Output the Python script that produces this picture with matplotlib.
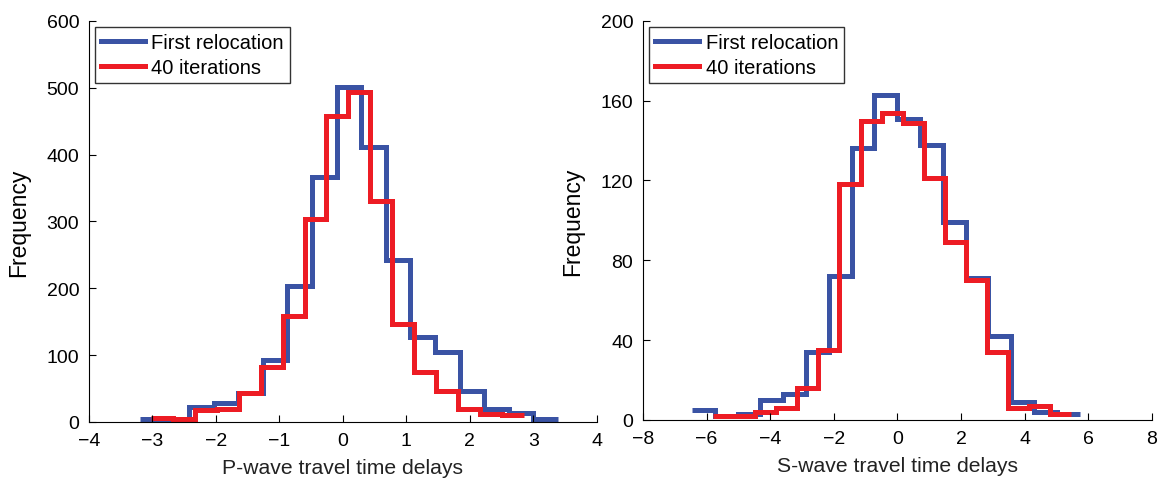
import numpy as np
import matplotlib
matplotlib.use('Agg')
import matplotlib.pyplot as plt

plt.rcParams['font.family'] = ['Liberation Sans', 'DejaVu Sans']

# P-wave histograms (bin edges span, counts)
p_first_range = (-3.20, 3.39)
p_first = [5, 4, 22, 29, 44, 92, 204, 367, 501, 412, 242, 127, 104, 47, 19, 14, 5]
p_iter_range = (-3.02, 2.85)
p_iter = [6, 4, 18, 20, 44, 82, 158, 304, 458, 494, 330, 147, 75, 47, 20, 12, 10]

# S-wave histograms
s_first_range = (-6.46, 5.73)
s_first = [5, 2, 3, 10, 13, 34, 72, 136, 163, 151, 138, 99, 71, 42, 9, 4, 3]
s_iter_range = (-5.80, 5.47)
s_iter = [2, 2, 4, 6, 16, 35, 118, 150, 154, 149, 121, 89, 70, 34, 6, 7, 3]

labels = ['First relocation', '40 iterations']
blue = '#3a53a4'
red = '#ed1c24'

fig = plt.figure(figsize=(11.59, 4.81), dpi=100)
ax1 = fig.add_axes([0.0768, 0.1206, 0.438, 0.834])
ax2 = fig.add_axes([0.5548, 0.1248, 0.439, 0.83])


def draw(ax, first, first_rng, it, it_rng, xlim, ylim, yticks, xlabel):
    e1 = np.linspace(first_rng[0], first_rng[1], len(first) + 1)
    e2 = np.linspace(it_rng[0], it_rng[1], len(it) + 1)
    ax.stairs(first, e1, baseline=None, color=blue, lw=3.6, label=labels[0])
    ax.stairs(it, e2, baseline=None, color=red, lw=3.6, label=labels[1])
    ax.set_xlim(*xlim)
    ax.set_ylim(*ylim)
    ax.set_yticks(yticks)
    ax.set_xlabel(xlabel, fontsize=15.2, color='#222222', labelpad=7)
    ax.set_ylabel('Frequency', fontsize=16.5, labelpad=12)
    ax.spines['top'].set_visible(False)
    ax.spines['right'].set_visible(False)
    ax.tick_params(direction='in', length=5, labelsize=14, pad=7)
    leg = ax.legend(loc='upper left', bbox_to_anchor=(0.012, 0.984), fontsize=14.5,
                    fancybox=False, edgecolor='black', handlelength=2.2,
                    borderpad=0.3, labelspacing=0.3, handletextpad=0.3,
                    borderaxespad=0)
    leg.get_frame().set_linewidth(1.0)


draw(ax1, p_first, p_first_range, p_iter, p_iter_range, (-4, 4), (0, 600),
     np.arange(0, 601, 100), 'P-wave travel time delays')
draw(ax2, s_first, s_first_range, s_iter, s_iter_range, (-8, 8), (0, 200),
     np.arange(0, 201, 40), 'S-wave travel time delays')

fig.savefig('out.png', dpi=100)
